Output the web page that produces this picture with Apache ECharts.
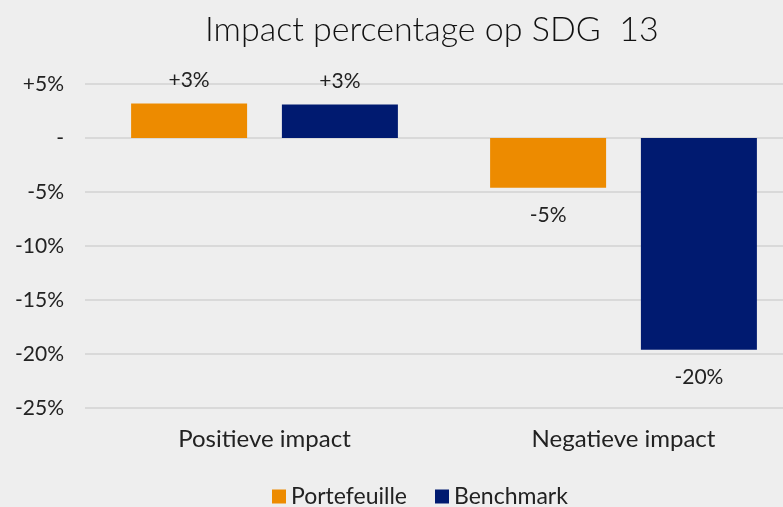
<!DOCTYPE html>
<html lang="nl">
<head>
    <meta charset="UTF-8">
    <title>Impact percentage op SDG 13</title>
    <script src="https://cdn.jsdelivr.net/npm/echarts@6/dist/echarts.min.js"></script>
    <style>
        html, body { margin: 0; padding: 0; background: #eeeeee; }
        #chart { width: 783px; height: 507px; }
    </style>
</head>
<body>
    <div id="chart"></div>
    <script type="text/javascript">
        // data
        var categories = ['Positieve impact', 'Negatieve impact'];
        var seriesNames = ['Portefeuille', 'Benchmark'];
        var portefeuille = [3.2, -4.6];
        var benchmark = [3.1, -19.6];
        var colors = ['#ED8B00', '#001A70'];

        var font = 'Lato, "Noto Sans", sans-serif';

        function pct(v) {
            var r = Math.round(Math.abs(v));
            return (v < 0 ? '-' : '+') + r + '%';
        }

        // label above positive bars, below negative ones
        function makeData(arr) {
            return arr.map(function (v) {
                return {
                    value: v,
                    label: {
                        position: v < 0 ? 'bottom' : 'top',
                        distance: v < 0 ? 17 : 13
                    }
                };
            });
        }

        var myChart = echarts.init(document.getElementById('chart'));
        var option = {
            backgroundColor: '#eeeeee',
            animation: false,
            title: {
                text: 'Impact percentage op SDG  13',
                left: 200,
                top: 8,
                textStyle: { fontFamily: font, fontSize: 34, fontWeight: 300, color: '#111' }
            },
            legend: {
                data: seriesNames,
                left: 267,
                top: 480,
                icon: 'rect',
                itemWidth: 14,
                itemHeight: 14,
                itemGap: 28,
                textStyle: { fontFamily: font, fontSize: 23, color: '#222' }
            },
            grid: { left: 85, top: 84, width: 718, height: 324, outerBoundsMode: 'none' },
            xAxis: {
                type: 'category',
                data: categories,
                axisLine: { show: false },
                axisTick: { show: false },
                axisLabel: { fontFamily: font, fontSize: 24, color: '#222', margin: 19 }
            },
            yAxis: {
                type: 'value',
                min: -25,
                max: 5,
                interval: 5,
                axisLine: { show: false },
                axisTick: { show: false },
                splitLine: { lineStyle: { color: '#d9d9d9', width: 2 } },
                axisLabel: {
                    fontFamily: font, fontSize: 21, color: '#222', margin: 21,
                    formatter: function (v) {
                        if (v === 0) return '-';
                        return (v > 0 ? '+' : '') + v + '%';
                    }
                }
            },
            series: [
                {
                    name: seriesNames[0],
                    type: 'bar',
                    data: makeData(portefeuille),
                    barWidth: 116,
                    barGap: '30%',
                    itemStyle: { color: colors[0] },
                    label: {
                        show: true, fontFamily: font, fontSize: 21, color: '#222',
                        formatter: function (p) { return pct(p.value); }
                    }
                },
                {
                    name: seriesNames[1],
                    type: 'bar',
                    data: makeData(benchmark),
                    barWidth: 116,
                    itemStyle: { color: colors[1] },
                    label: {
                        show: true, fontFamily: font, fontSize: 21, color: '#222',
                        formatter: function (p) { return pct(p.value); }
                    }
                }
            ]
        };
        myChart.setOption(option);
    </script>
</body>
</html>
